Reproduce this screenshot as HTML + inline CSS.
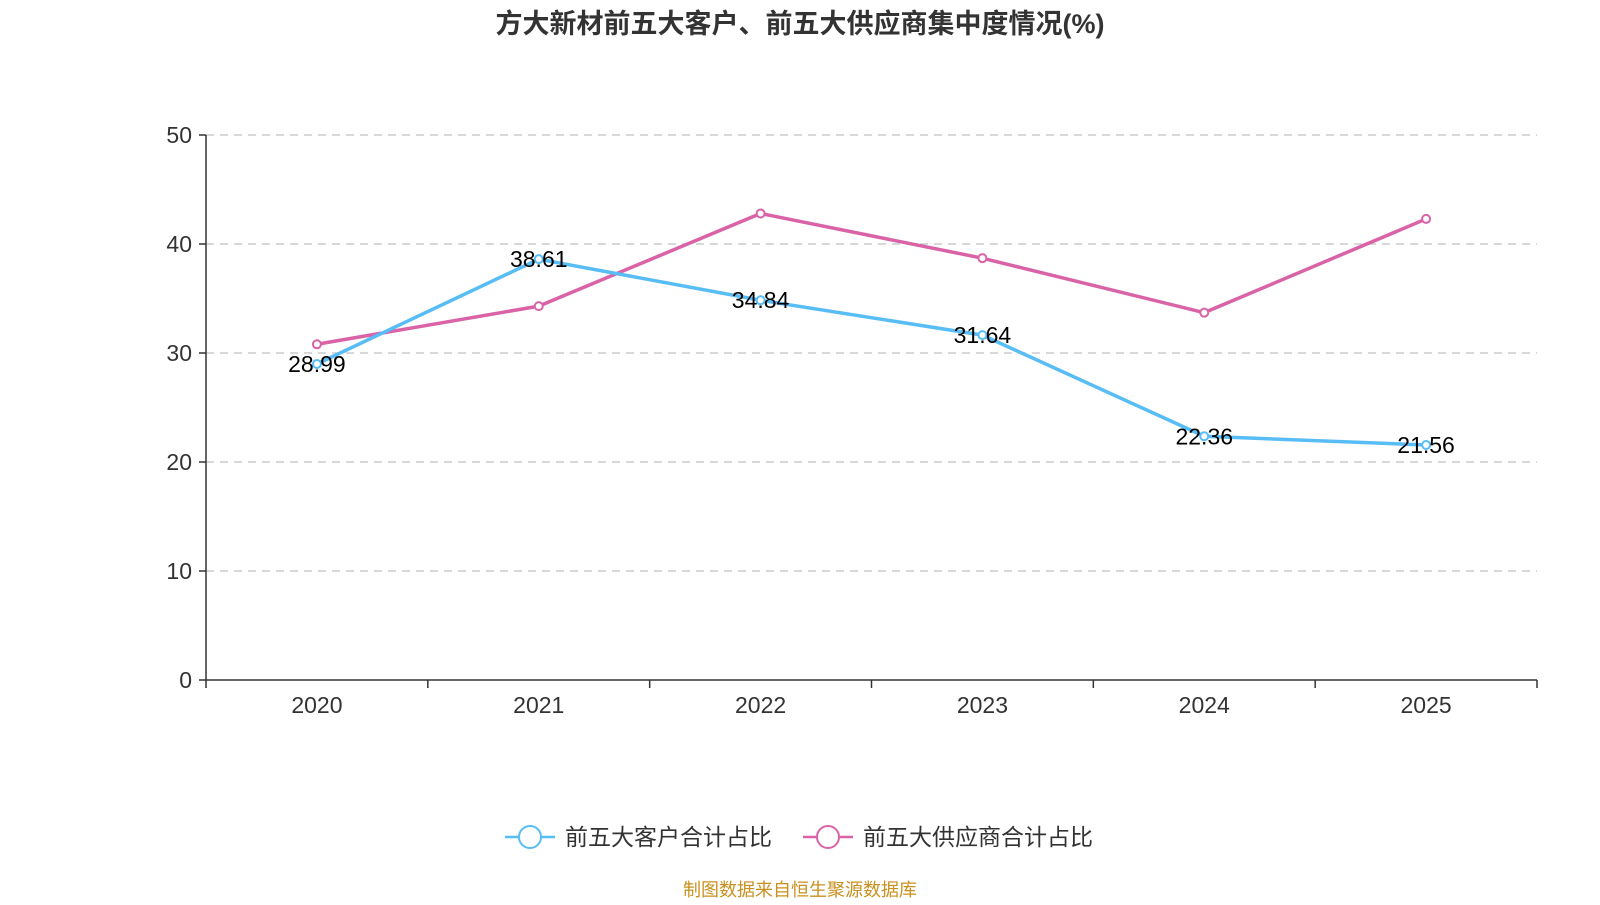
<!DOCTYPE html>
<html><head><meta charset="utf-8"><style>
body{margin:0;background:#fff;width:1600px;height:900px;overflow:hidden;font-family:"Liberation Sans","Noto Sans CJK SC",sans-serif}
</style></head><body>
<svg id="c" width="1600" height="900"></svg>
<script>
const categories=["2020","2021","2022","2023","2024","2025"];
const customers=[28.99,38.61,34.84,31.64,22.36,21.56];
const suppliers=[30.8,34.3,42.8,38.7,33.7,42.3];
const yTicks=[0,10,20,30,40,50];
const L=206,R=1537,T=135,B=680;
const svg=document.getElementById('c');const NS='http://www.w3.org/2000/svg';
function X(i){return L+(R-L)/categories.length*(i+0.5);}
function Y(v){return B-(v/50)*(B-T);}
function mk(t,a,p,txt){const e=document.createElementNS(NS,t);for(const k in a)e.setAttribute(k,a[k]);if(txt!==undefined)e.textContent=txt;(p||svg).appendChild(e);return e;}
const F='"Liberation Sans","Noto Sans CJK SC",sans-serif';
let t=mk('text',{x:800,y:33,'text-anchor':'middle','font-size':27,'font-weight':'bold',fill:'#333','font-family':F},null,'方大新材前五大客户、前五大供应商集中度情况(%)');


yTicks.forEach(v=>{
 if(v>0){const g=mk('line',{x1:L,x2:R,y1:Y(v),y2:Y(v),stroke:'#ccc','stroke-dasharray':'8,6','stroke-width':1.5});
 
 }
 mk('line',{x1:L-7,x2:L,y1:Y(v),y2:Y(v),stroke:'#333','stroke-width':1.5});
 const l=mk('text',{x:L-14,y:Y(v)+8,'text-anchor':'end','font-size':23,fill:'#333','font-family':F},null,v);
 
 
});
mk('line',{x1:L,x2:L,y1:T,y2:B,stroke:'#333','stroke-width':1.5});
mk('line',{x1:L,x2:R,y1:B,y2:B,stroke:'#333','stroke-width':1.5});
for(let i=0;i<=categories.length;i++){const x=L+(R-L)/categories.length*i;mk('line',{x1:x,x2:x,y1:B,y2:B+8,stroke:'#333','stroke-width':1.5});}
categories.forEach((c,i)=>{const l=mk('text',{x:X(i),y:B+33,'text-anchor':'middle','font-size':23,fill:'#333','font-family':F},null,c);
 
 });
function series(d,col,name,labels){
 const p=mk('polyline',{points:d.map((v,i)=>X(i)+','+Y(v)).join(' '),fill:'none',stroke:col,'stroke-width':3.5});
 
 
 d.forEach((v,i)=>{const c=mk('circle',{cx:X(i),cy:Y(v),r:4,fill:'#fff',stroke:col,'stroke-width':2});
  
  
  if(labels){const l=mk('text',{x:X(i),y:Y(v)+8,'text-anchor':'middle','font-size':23,fill:'#000','font-family':F},null,v.toFixed(2));
  
  }});
}
series(suppliers,'#d963a6','suppliers',false);
series(customers,'#58bdf5','customers',true);
function leg(x,col,txt,n){
 const g=mk('g',{});
 
 
 mk('line',{x1:x,x2:x+50,y1:837,y2:837,stroke:col,'stroke-width':2.5},g);
 mk('circle',{cx:x+25,cy:837,r:11,fill:'#fff',stroke:col,'stroke-width':2},g);
 mk('text',{x:x+60,y:845,'font-size':23,fill:'#333','font-family':F},g,txt);
}
leg(505,'#58bdf5','前五大客户合计占比','legend-customers');
leg(803,'#d963a6','前五大供应商合计占比','legend-suppliers');
t=mk('text',{x:800,y:896,'text-anchor':'middle','font-size':18,fill:'#c8901e','font-family':F},null,'制图数据来自恒生聚源数据库');


</script>
</body></html>
